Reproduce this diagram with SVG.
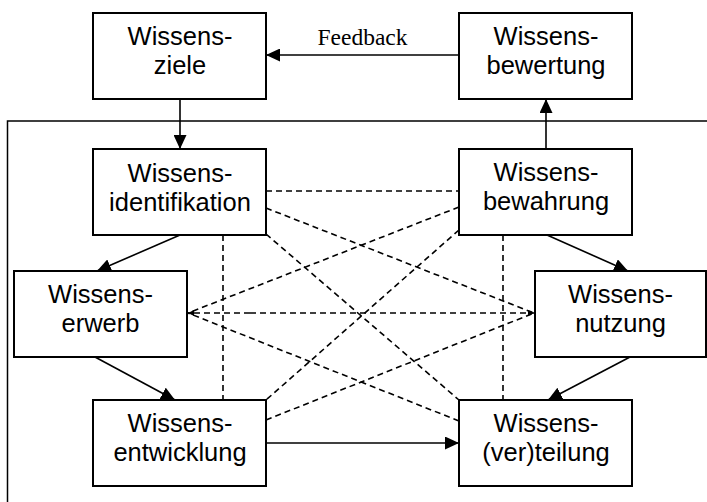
<svg xmlns="http://www.w3.org/2000/svg" width="707" height="502" viewBox="0 0 707 502">
<defs>
<style>
.box{fill:#fff;stroke:#000;stroke-width:2}
.t{font-family:"Liberation Sans",Arial,sans-serif;font-size:25.5px;fill:#000;text-anchor:middle}
.fb{font-family:"Liberation Serif","Times New Roman",serif;font-size:23.5px;fill:#000;text-anchor:middle}
.s{stroke:#000;stroke-width:1.6;fill:none}
.d{stroke:#000;stroke-width:1.6;fill:none;stroke-dasharray:6 4}
.frame{stroke:#000;stroke-width:1.5;fill:none}
</style>
<marker id="ah" markerWidth="14" markerHeight="13" refX="14" refY="6.5" orient="auto" markerUnits="userSpaceOnUse">
<path d="M0,0 L14,6.5 L0,13 Z" fill="#000"/>
</marker>
<marker id="sh" markerWidth="6" markerHeight="6" refX="6" refY="3" orient="auto" markerUnits="userSpaceOnUse">
<path d="M0,0 L6,3 L0,6 Z" fill="#000"/>
</marker>
</defs>
<rect width="707" height="502" fill="#fff"/>
<path class="frame" d="M707,121 H7.5 V502"/>
<g id="connectors">
<line class="s" x1="180" y1="99" x2="180" y2="149" marker-end="url(#ah)"/>
<line class="s" x1="459" y1="55" x2="266" y2="55" marker-end="url(#ah)"/>
<line class="s" x1="546" y1="149" x2="546" y2="99" marker-end="url(#ah)"/>
<line class="s" x1="180" y1="235" x2="97" y2="271" marker-end="url(#ah)"/>
<line class="s" x1="95" y1="357" x2="175" y2="400" marker-end="url(#ah)"/>
<line class="s" x1="547" y1="235" x2="628" y2="271" marker-end="url(#ah)"/>
<line class="s" x1="630" y1="357" x2="548" y2="400" marker-end="url(#ah)"/>
<line class="s" x1="266" y1="443" x2="459" y2="443" marker-end="url(#ah)"/>
<line class="d" x1="266" y1="191" x2="459" y2="191"/>
<line class="d" x1="223" y1="235" x2="223" y2="400"/>
<line class="d" x1="503" y1="235" x2="503" y2="400"/>
<line class="d" x1="266" y1="234" x2="459" y2="400"/>
<line class="d" x1="459" y1="230" x2="266" y2="400"/>
<line class="d" x1="250" y1="313" x2="188" y2="313" marker-end="url(#sh)"/>
<line class="d" x1="250" y1="313" x2="534" y2="313" marker-end="url(#sh)"/>
<line class="d" x1="266" y1="208" x2="534" y2="313"/>
<line class="d" x1="266" y1="420" x2="534" y2="313"/>
<line class="d" x1="459" y1="207" x2="188" y2="313"/>
<line class="d" x1="459" y1="421" x2="188" y2="313"/>
</g>
<g id="ziele"><rect class="box" x="93" y="13" width="173" height="86"/><text class="t" x="180" y="45">Wissens-</text><text class="t" x="180" y="74">ziele</text></g>
<g id="bewertung"><rect class="box" x="459" y="13" width="173" height="86"/><text class="t" x="546" y="44.5">Wissens-</text><text class="t" x="546" y="73.5">bewertung</text></g>
<g id="identifikation"><rect class="box" x="93" y="149" width="173" height="86"/><text class="t" x="180" y="181.5">Wissens-</text><text class="t" x="180" y="210.5">identifikation</text></g>
<g id="bewahrung"><rect class="box" x="459" y="149" width="173" height="86"/><text class="t" x="546" y="181">Wissens-</text><text class="t" x="546" y="210">bewahrung</text></g>
<g id="erwerb"><rect class="box" x="14" y="271" width="173" height="86"/><text class="t" x="100.5" y="303">Wissens-</text><text class="t" x="100.5" y="332">erwerb</text></g>
<g id="nutzung"><rect class="box" x="535" y="271" width="171" height="86"/><text class="t" x="620.5" y="303">Wissens-</text><text class="t" x="620.5" y="332">nutzung</text></g>
<g id="entwicklung"><rect class="box" x="93" y="400" width="173" height="86"/><text class="t" x="180" y="432">Wissens-</text><text class="t" x="180" y="461">entwicklung</text></g>
<g id="verteilung"><rect class="box" x="459" y="400" width="173" height="86"/><text class="t" x="546" y="432">Wissens-</text><text class="t" x="546" y="461">(ver)teilung</text></g>
<text class="fb" x="362.5" y="45">Feedback</text>
</svg>
